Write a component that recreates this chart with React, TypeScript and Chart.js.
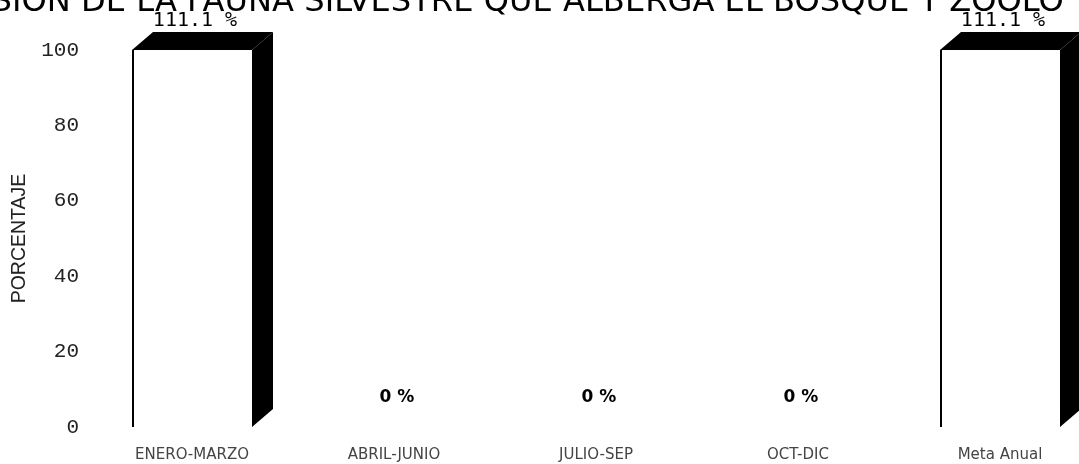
import React, { useEffect, useRef } from 'react';
import { Chart, registerables } from 'chart.js';

Chart.register(...registerables);

const categories = ['ENERO-MARZO', 'ABRIL-JUNIO', 'JULIO-SEP', 'OCT-DIC', 'Meta Anual'];
const porcentajes = [111.1, 0, 0, 0, 111.1];
const yTicks = [0, 20, 40, 60, 80, 100];
const titleText = 'SION DE LA FAUNA SILVESTRE QUE ALBERGA EL BOSQUE Y ZOOLO';
const yTitle = 'PORCENTAJE';

const DEPTH_X = 21;
const DEPTH_Y = 18;

const bar3d = {
  id: 'bar3d',
  afterDatasetsDraw(chart: any) {
    const { ctx, chartArea } = chart;
    const meta = chart.getDatasetMeta(0);
    const values = chart.data.datasets[0].data as number[];
    ctx.save();
    meta.data.forEach((el: any, i: number) => {
      const { x, y, base, width } = el.getProps(['x', 'y', 'base', 'width'], true);
      const top = Math.max(y, chartArea.top);
      const left = x - width / 2;
      const right = x + width / 2;
      if (base - top > 0.5) {
        ctx.fillStyle = '#000';
        ctx.beginPath();
        ctx.moveTo(left, top);
        ctx.lineTo(right, top);
        ctx.lineTo(right + DEPTH_X, top - DEPTH_Y);
        ctx.lineTo(left + DEPTH_X, top - DEPTH_Y);
        ctx.closePath();
        ctx.fill();
        ctx.beginPath();
        ctx.moveTo(right, top);
        ctx.lineTo(right + DEPTH_X, top - DEPTH_Y);
        ctx.lineTo(right + DEPTH_X, base - DEPTH_Y);
        ctx.lineTo(right, base);
        ctx.closePath();
        ctx.fill();
      }
      const v = values[i];
      ctx.fillStyle = '#000';
      ctx.font = v > 0 ? "20px 'DejaVu Sans Mono'" : "bold 17px 'DejaVu Sans'";
      ctx.textAlign = 'center';
      ctx.textBaseline = 'middle';
      ctx.fillText(`${v} %`, x + 3, top - DEPTH_Y - 11);
    });
    ctx.restore();
  },
};

const cutTitle = {
  id: 'cutTitle',
  beforeDraw(chart: any) {
    const ctx = chart.ctx;
    ctx.save();
    ctx.font = "100px 'DejaVu Sans'";
    const inner = ctx.measureText(titleText.slice(1, titleText.length - 1)).width;
    const size = (100 * 1028) / inner;
    ctx.font = `${size}px 'DejaVu Sans'`;
    const firstW = ctx.measureText(titleText[0]).width;
    ctx.fillStyle = '#000';
    ctx.textAlign = 'left';
    ctx.textBaseline = 'alphabetic';
    ctx.fillText(titleText, 12 - firstW, 11);
    ctx.restore();
  },
};

export default function App() {
  const ref = useRef<HTMLCanvasElement>(null);

  useEffect(() => {
    if (!ref.current) return;
    const chart = new Chart(ref.current, {
      type: 'bar',
      data: {
        labels: categories,
        datasets: [
          {
            data: porcentajes,
            backgroundColor: '#fff',
            borderColor: '#000',
            borderWidth: { left: 2, right: 0, top: 0, bottom: 0 },
            borderSkipped: false,
            barPercentage: 0.594,
            categoryPercentage: 1,
            clip: 0,
          } as any,
        ],
      },
      options: {
        responsive: false,
        animation: false,
        layout: { padding: { left: 0, top: 50, right: 29, bottom: 0 } },
        plugins: {
          legend: { display: false },
          tooltip: { enabled: false },
          title: { display: false },
        },
        scales: {
          x: {
            afterFit(s: any) {
              s.height = 37;
            },
            grid: { display: false, drawTicks: false },
            border: { display: false },
            ticks: {
              font: { family: "'DejaVu Sans'", size: 15 },
              color: '#444',
              padding: 19,
              maxRotation: 0,
              autoSkip: false,
            },
          },
          y: {
            min: 0,
            max: 100,
            afterFit(s: any) {
              s.width = 91;
            },
            afterBuildTicks(s: any) {
              s.ticks = yTicks.map((v) => ({ value: v }));
            },
            grid: { display: false, drawTicks: false },
            border: { display: false },
            ticks: {
              font: { family: "'Liberation Mono'", size: 21 },
              color: '#222',
              padding: 12,
            },
            title: {
              display: true,
              text: yTitle,
              font: { family: "'Liberation Sans'", size: 19.5 },
              color: '#222',
              padding: { top: 8, bottom: 0 },
            },
          },
        },
      } as any,
      plugins: [bar3d, cutTitle],
    });
    return () => chart.destroy();
  }, []);

  return (
    <div
      style={{
        position: 'fixed',
        left: 0,
        top: 0,
        width: 1079,
        height: 464,
        overflow: 'hidden',
        background: '#fff',
      }}
    >
      <canvas ref={ref} width={1130} height={464} style={{ display: 'block' }} />
    </div>
  );
}
